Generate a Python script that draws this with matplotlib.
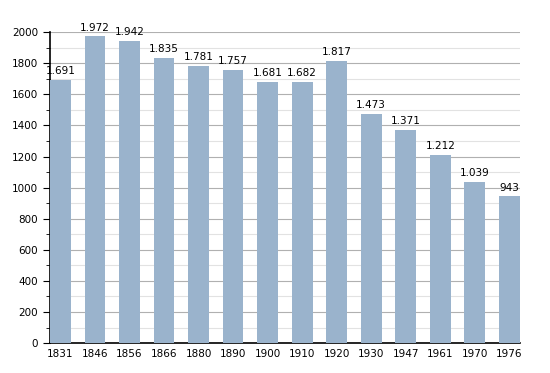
import numpy as np
import matplotlib.pyplot as plt
from matplotlib.ticker import MultipleLocator

years = ['1831', '1846', '1856', '1866', '1880', '1890', '1900',
         '1910', '1920', '1930', '1947', '1961', '1970', '1976']
population = [1691, 1972, 1942, 1835, 1781, 1757, 1681,
              1682, 1817, 1473, 1371, 1212, 1039, 943]
labels = ['1.691', '1.972', '1.942', '1.835', '1.781', '1.757', '1.681',
          '1.682', '1.817', '1.473', '1.371', '1.212', '1.039', '943']

fig = plt.figure(figsize=(5.5, 3.73), dpi=100)
ax = fig.add_axes([0.091, 0.080, 0.854, 0.834])

x = np.arange(len(years))
ax.bar(x, population, width=0.6, color='#9ab3cc', zorder=3)

for xi, v, lab in zip(x, population, labels):
    ax.text(xi, v + 25, lab, ha='center', va='bottom', fontsize=7.5, zorder=4)

ax.set_xlim(-0.3, len(years) - 0.7)
ax.set_ylim(0, 2000)
ax.set_xticks(x)
ax.set_xticklabels(years)
ax.yaxis.set_major_locator(MultipleLocator(200))
ax.yaxis.set_minor_locator(MultipleLocator(100))
ax.grid(axis='y', which='major', color='#b0b0b0', linewidth=0.8, zorder=0)
ax.grid(axis='y', which='minor', color='#e2e2e2', linewidth=0.8, zorder=0)

for s in ['top', 'right']:
    ax.spines[s].set_visible(False)
ax.spines['left'].set_linewidth(1.2)
ax.spines['bottom'].set_linewidth(1.2)
ax.tick_params(axis='x', length=0, labelsize=7.5, pad=4)
ax.tick_params(axis='y', which='major', length=5, labelsize=7.5)
ax.tick_params(axis='y', which='minor', length=3)

fig.savefig('out.png', dpi=100)
